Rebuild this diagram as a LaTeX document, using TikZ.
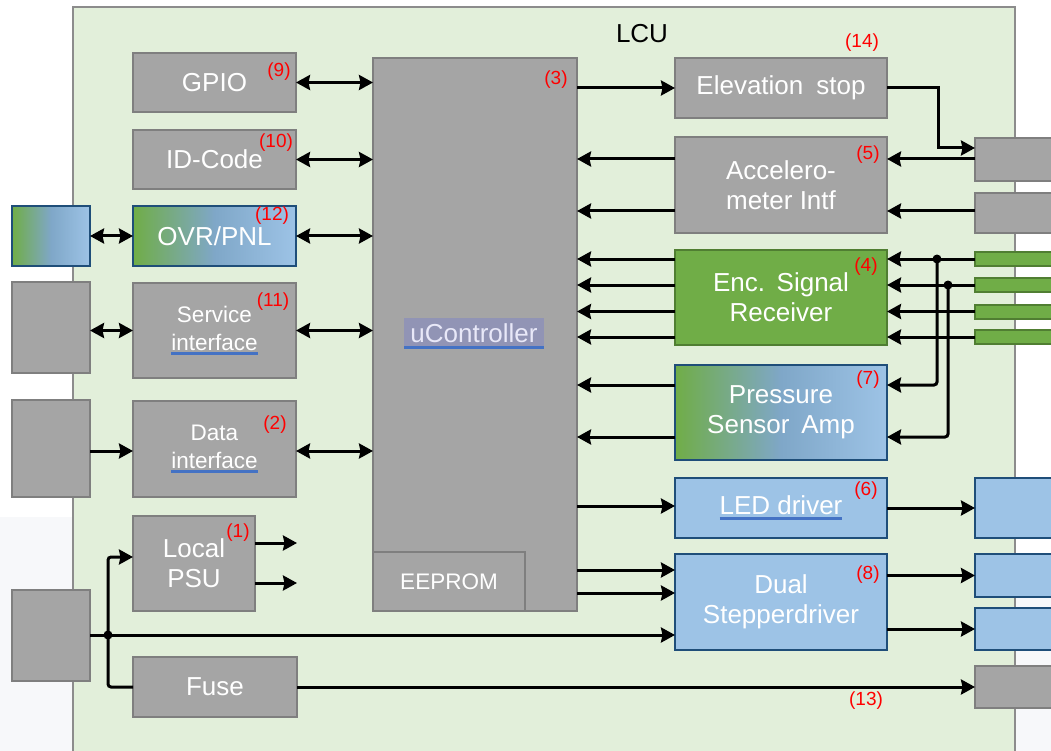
\documentclass[tikz,border=0pt]{standalone}
\usepackage{fontspec}
\setmainfont{Liberation Sans}
\usetikzlibrary{arrows.meta,calc}
\definecolor{lcufill}{HTML}{E2EFDA}
\definecolor{lculine}{HTML}{8C8C8C}
\definecolor{gfill}{HTML}{A5A5A5}
\definecolor{gline}{HTML}{7F7F7F}
\definecolor{grfill}{HTML}{70AD47}
\definecolor{grline}{HTML}{507E32}
\definecolor{bfill}{HTML}{9DC3E6}
\definecolor{bline}{HTML}{1F4E79}
\definecolor{midblue}{HTML}{7FA7C8}
\definecolor{ulblue}{HTML}{4472C4}
\definecolor{hlbg}{HTML}{9194B5}
\definecolor{hltext}{HTML}{E8E8F8}
\definecolor{lbl}{HTML}{FF0000}
\definecolor{pale}{HTML}{F7F8FA}
\newsavebox{\ulsave}
\newcommand\blueul[1]{\leavevmode\sbox{\ulsave}{#1}\rlap{\color{ulblue}\rule[-5pt]{\wd\ulsave}{3pt}}\usebox{\ulsave}}
% block: style, name, x1, y1, x2, y2, text
\newcommand\blk[7]{\node[#1, minimum width={(#5-#3)*1pt}, minimum height={(#6-#4)*1pt}] (#2) at ({(#3+#5)/2},{(#4+#6)/2}) {#7};}
\begin{document}
\begin{tikzpicture}[x=1pt,y=-1pt,
  blkbase/.style={inner sep=0pt, outer sep=0pt, text=white, font=\fontsize{26}{30}\selectfont, align=center, line width=2pt},
  gbox/.style={blkbase, fill=gfill, draw=gline},
  grbox/.style={blkbase, fill=grfill, draw=grline},
  bbox/.style={blkbase, fill=bfill, draw=bline, line width=2.5pt},
  gradbox/.style={blkbase, left color=grfill, right color=bfill, middle color=midblue, draw=bline, line width=2.5pt},
  small/.style={font=\fontsize{22.5}{28}\selectfont},
  num/.style={text=lbl, font=\fontsize{19}{22}\selectfont, inner sep=0pt},
  arr/.style={line width=3pt, -{Stealth[length=14pt,width=15pt,inset=1.5pt]}},
  darr/.style={line width=3pt, {Stealth[length=14pt,width=15pt,inset=1.5pt]}-{Stealth[length=14pt,width=15pt,inset=1.5pt]}},
  plain/.style={line width=3pt},
  dot/.style={circle, fill=black, inner sep=0pt, minimum size=9pt}]
\useasboundingbox (0,0) rectangle (1051,751);
\clip (0,0) rectangle (1051,751);
\fill[pale] (0,517) rectangle (73,751);
\fill[pale] (1015,553) rectangle (1051,751);
\blk{fill=lcufill, draw=lculine, line width=2pt, inner sep=0pt}{lcu}{73}{7}{1015}{770}{}
\node[font=\fontsize{26}{30}\selectfont, inner sep=0pt] (lcut) at (642,34) {LCU};
% left outer boxes
\blk{gradbox}{o1}{12}{206}{90}{266}{}
\blk{gbox}{o2}{12}{282}{90}{373}{}
\blk{gbox}{o3}{12}{400}{90}{497}{}
\blk{gbox}{o4}{12}{590}{90}{681}{}
% left column
\blk{gbox}{gpio}{133}{53}{296}{112}{GPIO}
\blk{gbox}{idc}{133}{130}{296}{189}{ID-Code}
\blk{gradbox}{ovr}{133}{206}{296}{266}{OVR/PNL}
\blk{gbox,small}{svc}{133}{283}{296}{378}{Service\\\blueul{interface}}
\blk{gbox,small}{dat}{133}{401}{296}{497}{Data\\\blueul{interface}}
\blk{gbox}{psu}{133}{516}{255}{611}{Local\\PSU}
\blk{gbox}{fuse}{133}{657}{297}{717}{Fuse}
% uController
\blk{gbox}{uc}{373}{58}{577}{611}{}
\blk{gbox,small}{eep}{373}{552}{525}{611}{EEPROM}
\node[fill=hlbg, text=hltext, inner sep=0pt, minimum width=140pt, minimum height=31pt,
  font=\fontsize{26}{30}\selectfont,
  path picture={\fill[ulblue] ([yshift=3.5pt]path picture bounding box.south west) rectangle (path picture bounding box.south east);}]
  (uct) at (474,333.5) {uController};
% right column
\blk{gbox}{elev}{675}{58}{887}{118}{Elevation\hspace{0.5em}stop}
\blk{gbox}{acc}{675}{137}{887}{233}{Accelero-\\meter Intf}
\blk{grbox}{enc}{675}{250}{887}{345}{Enc.\hspace{0.45em}Signal\\Receiver}
\blk{gradbox}{pres}{675}{365}{887}{460}{Pressure\\Sensor\hspace{0.45em}Amp}
\blk{bbox}{led}{675}{478}{887}{538}{\blueul{LED driver}}
\blk{bbox}{dual}{675}{554}{887}{650}{Dual\\Stepperdriver}
% far right boxes
\blk{gbox}{r1}{975}{138}{1060}{181}{}
\blk{gbox}{r2}{975}{193}{1060}{233}{}
\blk{grbox}{s1}{975}{252}{1060}{266}{}
\blk{grbox}{s2}{975}{278}{1060}{292}{}
\blk{grbox}{s3}{975}{304.5}{1060}{318.5}{}
\blk{grbox}{s4}{975}{330}{1060}{344}{}
\blk{bbox}{b1}{975}{478}{1060}{538}{}
\blk{bbox}{b2}{975}{554}{1060}{597}{}
\blk{bbox}{b3}{975}{608}{1060}{650}{}
\blk{gbox}{r3}{975}{666}{1060}{708}{}
% left connectors
\draw[darr] (gpio.east) -- (uc.west |- gpio.east);
\draw[darr] (idc.east) -- (uc.west |- idc.east);
\draw[darr] (ovr.east) -- (uc.west |- ovr.east);
\draw[darr] (svc.east) -- (uc.west |- svc.east);
\draw[darr] (dat.east |- 0,451) -- (uc.west |- 0,451);
\draw[darr] (o1.east) -- (ovr.west);
\draw[darr] (o2.east |- svc.west) -- (svc.west);
\draw[arr] (o3.east |- 0,451) -- (dat.west |- 0,451);
% top right
\draw[arr] (uc.east |- elev.west) -- (elev.west);
\draw[arr] (elev.east) -- ++(51,0) |- (r1.west |- 0,148);
\draw[arr] (r1.west |- 0,159) -- (acc.east |- 0,159);
\draw[arr] (r2.west |- 0,211) -- (acc.east |- 0,211);
\draw[arr] (acc.west |- 0,159) -- (uc.east |- 0,159);
\draw[arr] (acc.west |- 0,211) -- (uc.east |- 0,211);
% encoder
\foreach \s in {s1,s2,s3,s4}{
  \draw[arr] (\s.west) -- (enc.east |- \s.west);
  \draw[arr] (enc.west |- \s.west) -- (uc.east |- \s.west);
}
\node[dot] (j1) at (937,259) {};
\node[dot] (j2) at (948,285) {};
\draw[arr, rounded corners=3pt] (j1.center) |- (pres.east |- 0,385);
\draw[arr, rounded corners=3pt] (j2.center) |- (pres.east |- 0,437);
\draw[arr] (pres.west |- 0,385) -- (uc.east |- 0,385);
\draw[arr] (pres.west |- 0,437) -- (uc.east |- 0,437);
% LED and stepper
\draw[arr] (uc.east |- 0,506) -- (led.west |- 0,506);
\draw[arr] (led.east |- b1.west) -- (b1.west);
\draw[arr] (uc.east |- 0,570) -- (dual.west |- 0,570);
\draw[arr] (uc.east |- 0,593) -- (dual.west |- 0,593);
\draw[arr] (dual.east |- b2.west) -- (b2.west);
\draw[arr] (dual.east |- b3.west) -- (b3.west);
% power
\node[dot] (j3) at (108,635) {};
\draw[arr] (o4.east |- j3) -- (dual.west |- j3);
\draw[arr, rounded corners=3pt] (j3.center) |- (psu.west |- 0,557);
\draw[plain, rounded corners=3pt] (j3.center) |- (fuse.west);
\draw[arr] (fuse.east) -- (r3.west);
\coordinate (p1) at (297,543);
\coordinate (p2) at (297,583);
\draw[arr] (psu.east |- p1) -- (p1);
\draw[arr] (psu.east |- p2) -- (p2);
% numbers
\node[num] (n9) at (279,72) {(9)};
\node[num] (n10) at (276,143) {(10)};
\node[num] (n12) at (272,216) {(12)};
\node[num] (n11) at (273,302) {(11)};
\node[num] (n2) at (275,425) {(2)};
\node[num] (n1) at (238,533) {(1)};
\node[num] (n3) at (556,80) {(3)};
\node[num] (n14) at (862,43) {(14)};
\node[num] (n5) at (868,155) {(5)};
\node[num] (n4) at (866,267) {(4)};
\node[num] (n7) at (868,380) {(7)};
\node[num] (n6) at (866,491) {(6)};
\node[num] (n8) at (868,575) {(8)};
\node[num] (n13) at (866,701) {(13)};
\end{tikzpicture}
\end{document}
